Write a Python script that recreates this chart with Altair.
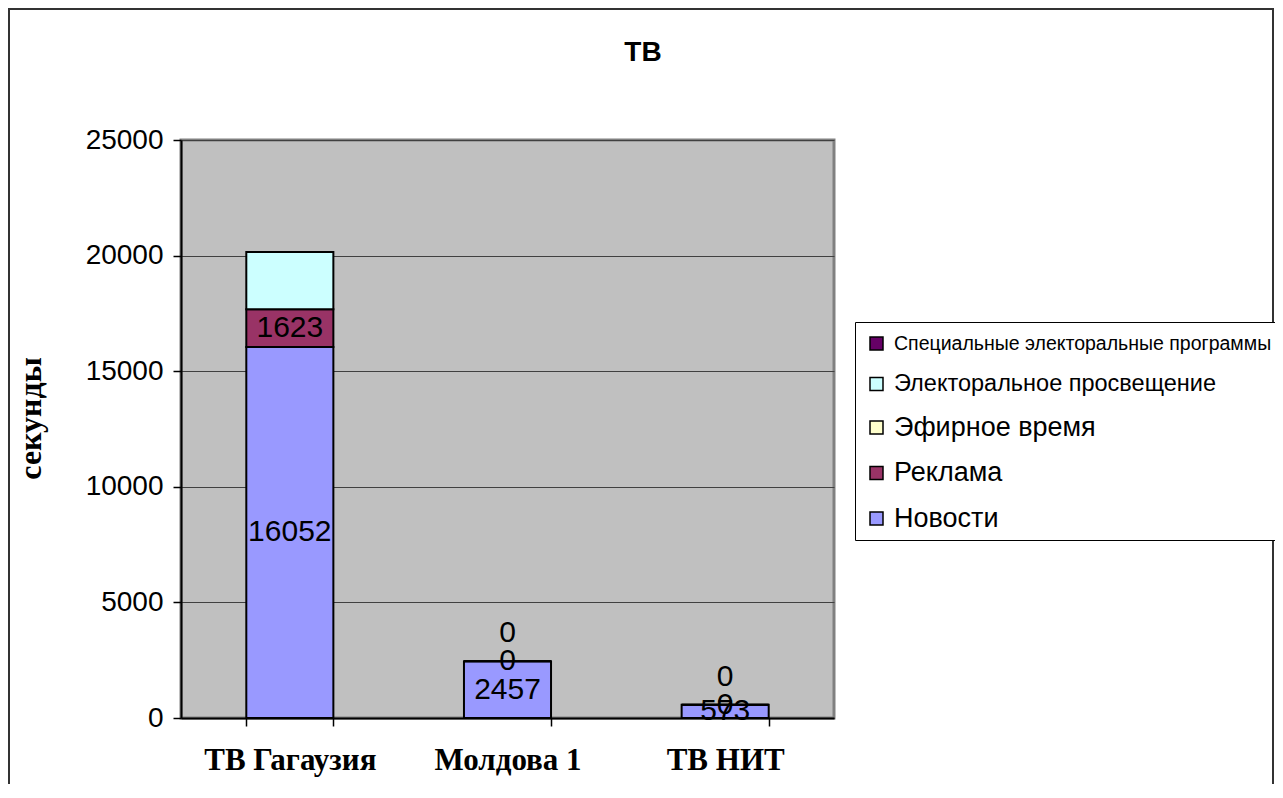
import altair as alt
import pandas as pd

stations = ["ТВ Гагаузия", "Молдова 1", "ТВ НИТ"]
series = ["Новости", "Реклама", "Эфирное время", "Электоральное просвещение",
          "Специальные электоральные программы"]
colors = ["#9999FF", "#993366", "#FFFFCC", "#CCFFFF", "#660066"]

news = [16052, 2457, 573]
ads = [1623, 0, 0]
airtime = [None, 0, 0]
civic = [2480, None, None]
special = [None, None, None]

labelled = ["Новости", "Реклама"]
raised = ["Эфирное время"]
y_ticks = [0, 5000, 10000, 15000, 20000, 25000]
chart_title = "ТВ"

all_values = [news, ads, airtime, civic, special]
rows = []
for si, (name, vals) in enumerate(zip(series, all_values)):
    for st, v in zip(stations, vals):
        rows.append({"station": st, "series": name, "order": si, "value": v})
df = pd.DataFrame(rows)

base = (
    alt.Chart(df)
    .transform_filter("isValid(datum.value)")
    .transform_stack(stack="value", groupby=["station"],
                     sort=[alt.SortField("order", order="ascending")],
                     as_=["y0", "y1"])
    .transform_calculate(mid="(datum.y0 + datum.y1) / 2")
)

x_enc = alt.X(
    "station:N", sort=stations,
    scale=alt.Scale(paddingInner=0.6, paddingOuter=0.3),
    axis=alt.Axis(title=None, labelAngle=0, tickBand="extent",
                  labelFont="Liberation Serif", labelFontWeight="bold",
                  labelFontSize=31, labelColor="black", labelPadding=19,
                  tickSize=8, tickColor="black", tickWidth=1.5,
                  domainColor="black", domainWidth=2, grid=False),
)
y_scale = alt.Scale(domain=[0, 25000], nice=False)

size_expr = ("datum.label == 'Специальные электоральные программы' ? 19.5 : "
             "(datum.label == 'Электоральное просвещение' ? 23.5 : 27)")

bars = base.mark_bar(stroke="black", strokeWidth=2).encode(
    x=x_enc,
    y=alt.Y("y1:Q", scale=y_scale,
            axis=alt.Axis(values=y_ticks, format="d", title="секунды",
                          titleFont="Liberation Serif", titleFontWeight="bold",
                          titleFontSize=32, titleColor="black", titlePadding=38,
                          titleY=278,
                          labelFont="Liberation Sans", labelFontSize=28,
                          labelColor="black", labelPadding=10,
                          tickSize=8, tickColor="black", tickWidth=1.5,
                          domainColor="black", domainWidth=2,
                          grid=True, gridColor="#404040", gridWidth=1)),
    y2="y0:Q",
    color=alt.Color(
        "series:N",
        scale=alt.Scale(domain=series[::-1], range=colors[::-1]),
        legend=alt.Legend(
            title=None, orient="none", legendX=674, legendY=182,
            direction="vertical", symbolType="square", symbolSize=169,
            symbolStrokeColor="black", symbolStrokeWidth=1.5,
            labelFont="Liberation Sans",
            labelFontSize=alt.ExprRef(expr=size_expr),
            labelColor="black", labelLimit=600, labelOffset=4,
            rowPadding=17.5, padding=8, fillColor="white",
            strokeColor="black", cornerRadius=0,
        ),
    ),
    order=alt.Order("order:Q"),
)

text_main = base.transform_filter(
    alt.FieldOneOfPredicate(field="series", oneOf=labelled)
).mark_text(font="Liberation Sans", fontSize=30, color="black",
            baseline="middle").encode(
    x=alt.X("station:N", sort=stations),
    y=alt.Y("mid:Q", scale=y_scale),
    text=alt.Text("value:Q", format="d"),
)

text_raised = base.transform_filter(
    alt.FieldOneOfPredicate(field="series", oneOf=raised)
).mark_text(font="Liberation Sans", fontSize=30, color="black",
            baseline="middle", dy=-28).encode(
    x=alt.X("station:N", sort=stations),
    y=alt.Y("mid:Q", scale=y_scale),
    text=alt.Text("value:Q", format="d"),
)

frame = alt.Chart(pd.DataFrame({"k": [0]})).mark_rect(
    fillOpacity=0, stroke="#333333", strokeWidth=2
).encode(x=alt.value(-172), x2=alt.value(1092),
         y=alt.value(-131), y2=alt.value(700))

title_mark = alt.Chart(pd.DataFrame({"t": [chart_title]})).mark_text(
    font="Liberation Sans", fontSize=28, fontWeight="bold", color="black",
    baseline="middle", align="center"
).encode(text="t:N", x=alt.value(462), y=alt.value(-87))

chart = (
    alt.layer(frame, bars, text_main, text_raised, title_mark)
    .properties(
        width=653, height=578,
        autosize=alt.AutoSizeParams(type="none"),
        padding={"left": 173, "top": 132, "right": 441, "bottom": 66},
    )
    .configure(background="white")
    .configure_view(fill="#C0C0C0", stroke="#808080", strokeWidth=3)
)

chart.save("out.html", embed_options={"renderer": "svg", "actions": False})
